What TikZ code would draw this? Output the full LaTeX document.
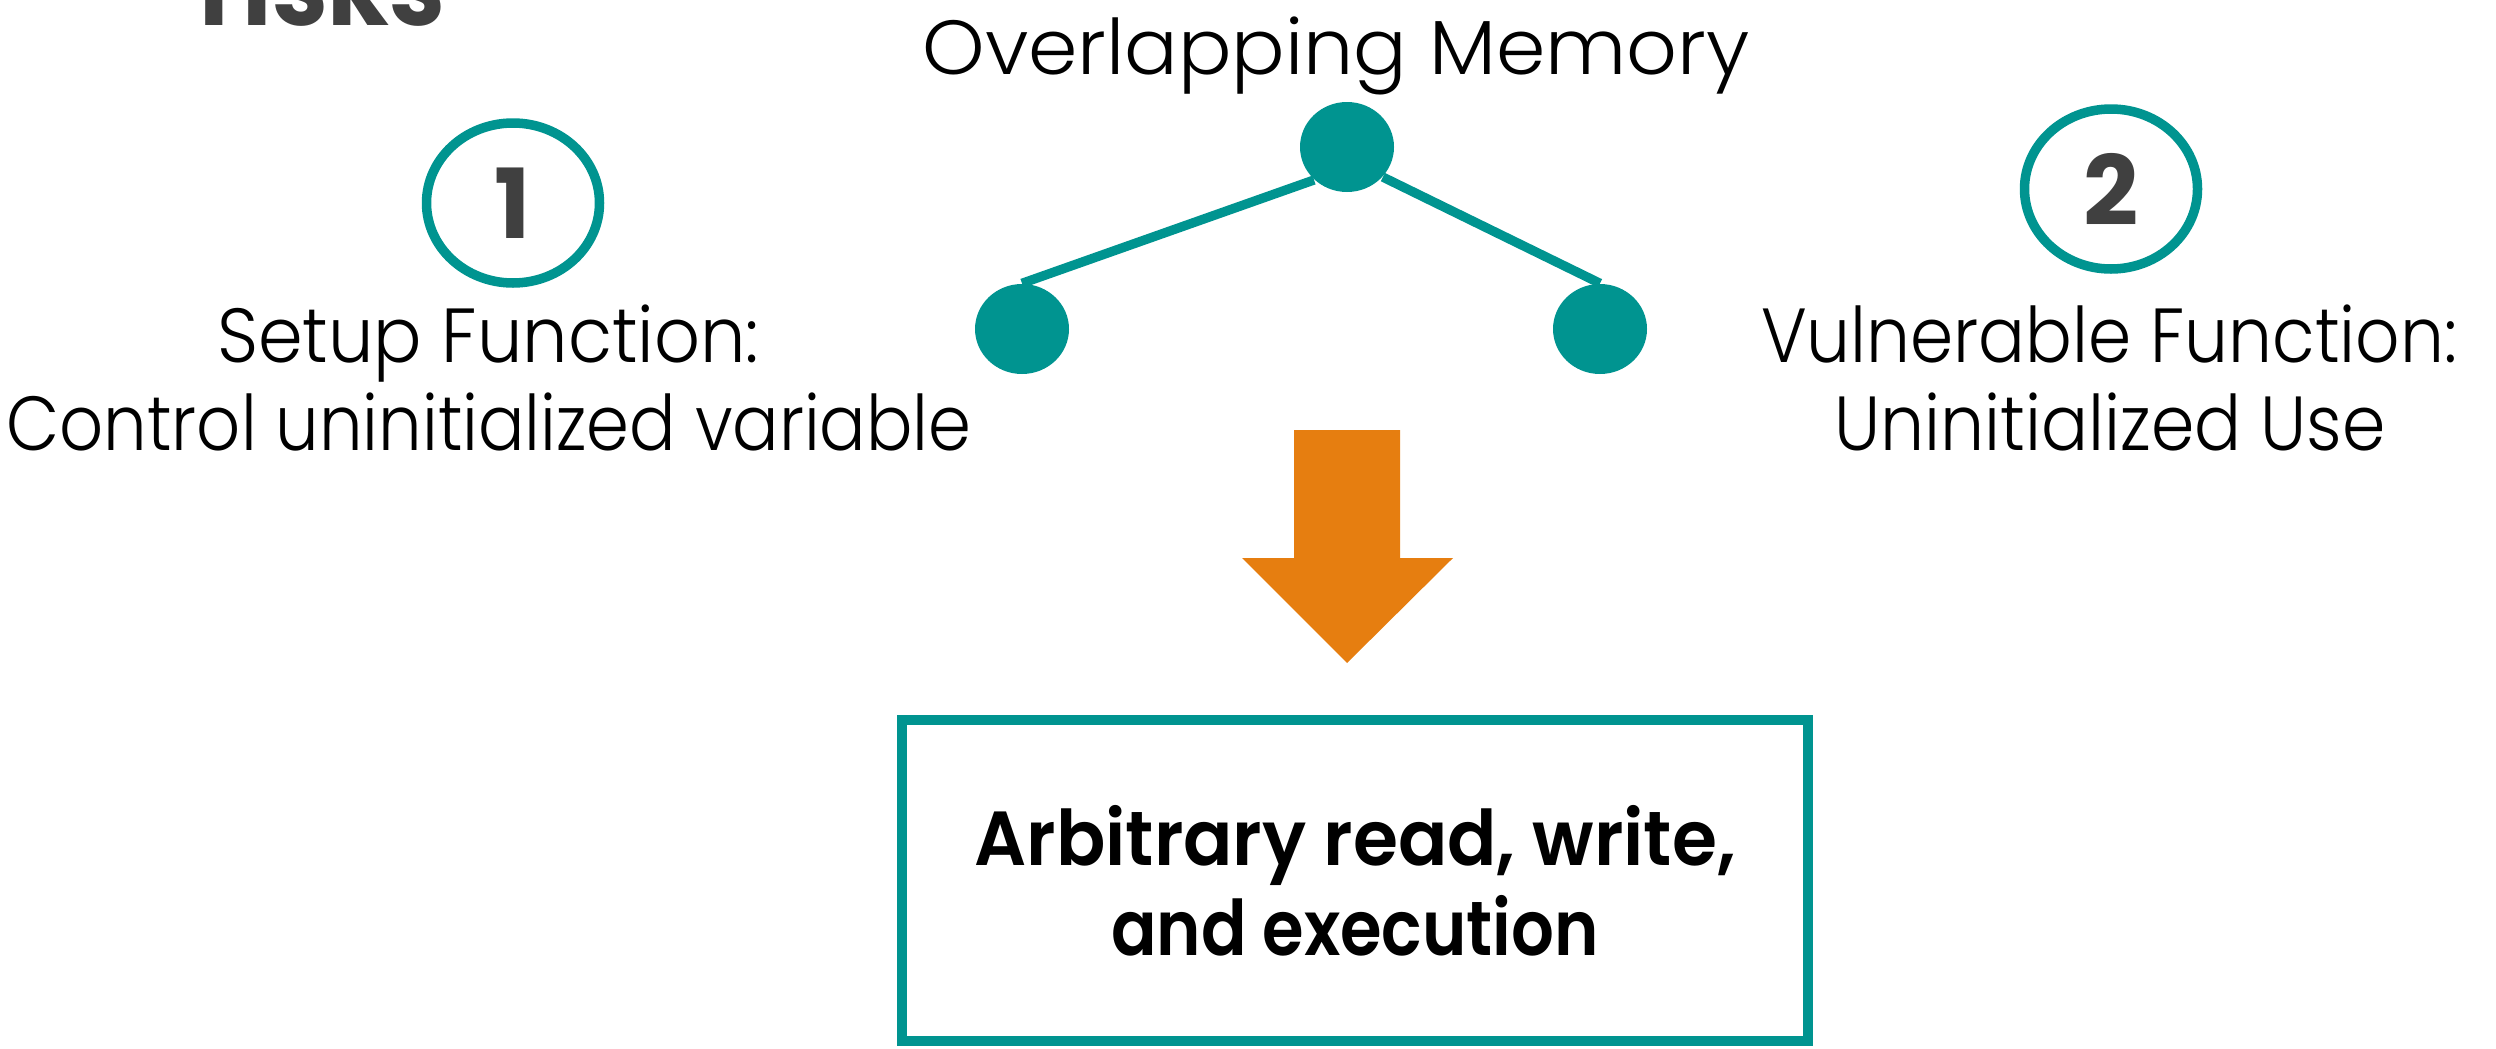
\documentclass[tikz,border=0pt]{standalone}
\usepackage{fontspec}
\setmainfont{Poppins}
\newfontfamily\lightfont{Poppins Light}
\newfontfamily\semifont{Poppins SemiBold}
\usetikzlibrary{shapes.geometric}
\definecolor{tealmark}{RGB}{0,148,144}
\definecolor{arroworange}{RGB}{230,126,16}
\definecolor{digitgray}{RGB}{64,64,64}

% set a line of text and stretch it horizontally to the given width
\newcommand\fitto[2]{%
  \setbox0\hbox{#2}%
  \pgfmathsetmacro\fitfac{#1/\the\wd0}%
  \scalebox{\fitfac}[1]{\box0}}

\begin{document}
\begin{tikzpicture}[x=0.3pt,y=-0.3pt,
  lighttext/.style={font=\lightfont\fontsize{23}{27}\selectfont, inner sep=0pt, anchor=base},
  ring/.style={draw=tealmark, line width=2.85pt, ellipse, minimum width=51.9pt, minimum height=48pt, inner sep=0pt},
  digit/.style={font=\bfseries\fontsize{29}{29}\selectfont, text=digitgray},
  dot/.style={fill=tealmark, ellipse, minimum width=28.2pt, minimum height=27pt, inner sep=0pt},
  branch/.style={draw=tealmark, line width=2.8pt},
  resultbox/.style={draw=tealmark, line width=3pt, minimum width=271.8pt, minimum height=96.3pt,
    inner sep=0pt, align=center, font=\semifont\fontsize{23}{27}\selectfont}
]
\useasboundingbox (0,0) rectangle (2496,1048);

% heading fragment at the top edge
\node[anchor=base west, inner sep=0pt, text=digitgray, font=\bfseries\fontsize{34}{34}\selectfont] (title) at (199,25) {\fitto{73.8pt}{risks}};

% step rings
\node[ring, digit] (n1) at (513,203) {1};
\node[ring, digit] (n2) at (2111,189) {2};

% step captions
\node[lighttext] (s1a) at (488,362) {\fitto{162.6pt}{Setup Function:}};
\node[lighttext] (s1b) at (489,450) {\fitto{289.5pt}{Control uninitialized variable}};
\node[lighttext] (s2a) at (2109,362) {\fitto{208.8pt}{Vulnerable Function:}};
\node[lighttext] (s2b) at (2110,450) {\fitto{165.3pt}{Uninitialized Use}};

% memory tree
\node[lighttext] (mem) at (1336,74) {\fitto{248.1pt}{Overlapping Memory}};
\node[dot] (top) at (1347,147) {};
\node[dot] (left) at (1022,329) {};
\node[dot] (right) at (1600,329) {};
\draw[branch] (top.-135) -- (left.north);
\draw[branch] (top.-40) -- (right.north);

% block arrow
\fill[arroworange] (1294,430) -- (1400,430) -- (1400,558) -- (1453,558)
  -- (1347,663) -- (1242,558) -- (1294,558) -- cycle;

% outcome
\node[resultbox] (res) at (1355,880.5)
  {\fitto{228.3pt}{Arbitrary read, write,}\\\fitto{146.4pt}{and execution}};
\end{tikzpicture}
\end{document}
